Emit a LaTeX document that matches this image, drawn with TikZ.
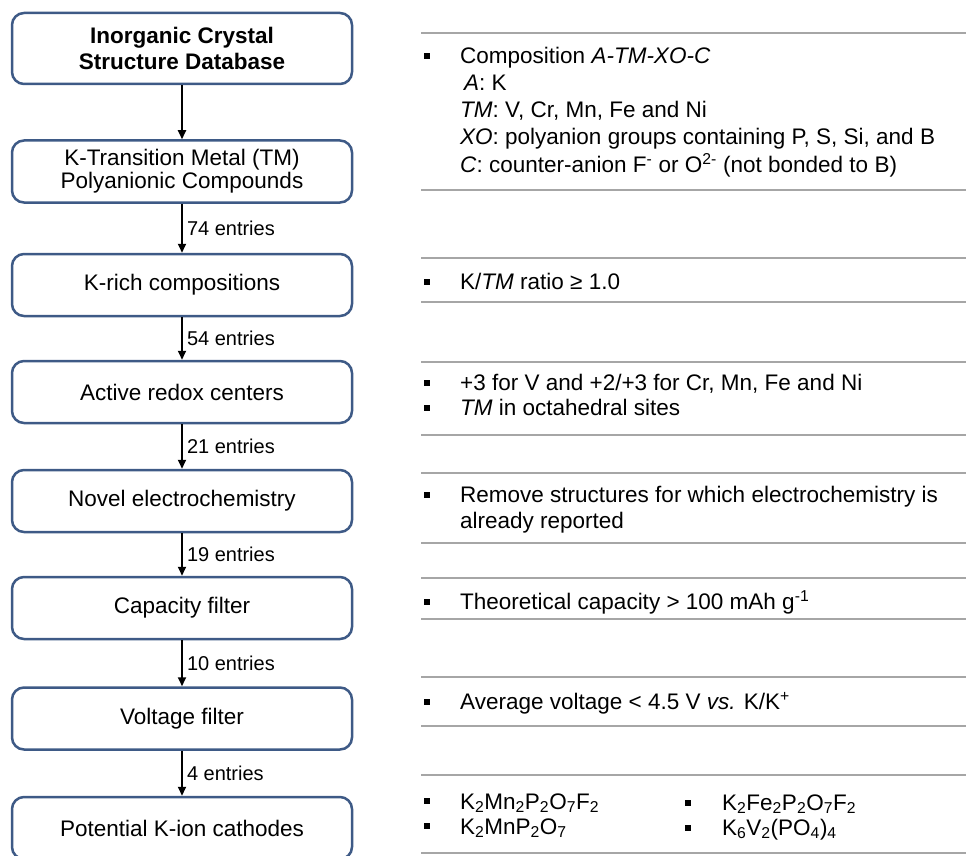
\documentclass[tikz,border=0pt]{standalone}
\usepackage{fontspec}
\setmainfont{Liberation Sans}
\usepackage{tikz}
\usetikzlibrary{arrows.meta}

\definecolor{boxblue}{RGB}{62,90,134}
\definecolor{rulegray}{RGB}{166,166,166}

\begin{document}
\begin{tikzpicture}[x=1pt,y=-1pt,
    stage/.style={draw=boxblue,line width=2.5pt,rounded corners=12pt,
      minimum width=340pt,minimum height=62pt,align=center,inner sep=2pt,
      font=\fontsize{22.5}{23}\selectfont},
    flow/.style={line width=2pt,-{Triangle[length=9pt,width=8pt]}},
    count/.style={right,inner sep=4pt,font=\fontsize{20}{24}\selectfont},
    crit/.style={anchor=base west,align=left,inner sep=0pt},
    sqbullet/.style={fill=black,minimum size=6pt,inner sep=0pt},
    sepline/.style={draw=rulegray,line width=2.2pt}
  ]
  \useasboundingbox (0,0) rectangle (966,856);
  \clip (0,0) rectangle (966,856);

  % stages of the screening
  \node[stage,font=\bfseries\fontsize{22.5}{26}\selectfont,minimum height=71pt]
    (icsd) at (182,48.5) {Inorganic Crystal\\Structure Database};
  \node[stage] (ktm) at (182,171.5) {K-Transition Metal (TM)\\Polyanionic Compounds};
  \node[stage] (krich) at (182,285) {K-rich compositions};
  \node[stage] (redox) at (182,392) {Active redox centers};
  \node[stage] (novel) at (182,501) {Novel electrochemistry};
  \node[stage] (capac) at (182,608) {Capacity filter};
  \node[stage] (volt) at (182,718.5) {Voltage filter};
  \node[stage] (cath) at (182,828) {Potential K-ion cathodes};

  % arrows with number of entries
  \draw[flow] (icsd) -- (ktm);
  \draw[flow] (ktm) -- (krich) node[count,midway] {74 entries};
  \draw[flow] (krich) -- (redox) node[count,midway] {54 entries};
  \draw[flow] (redox) -- (novel) node[count,midway] {21 entries};
  \draw[flow] (novel) -- (capac) node[count,midway] {19 entries};
  \draw[flow] (capac) -- (volt) node[count,midway] {10 entries};
  \draw[flow] (volt) -- (cath) node[count,midway] {4 entries};

  % grey separators of the criteria column
  \foreach \ly in {33,190,258,302,362,435,473,543,578,619,677,726,775,853}
    \draw[sepline] (421,\ly) -- (966,\ly);

  % criteria (multi-line nodes sit on the baseline of their last line)
  \begin{scope}[font=\fontsize{22.5}{27.2}\selectfont]
    \node[crit] (comp) at (460,172) {Composition \textit{A-TM-XO-C}\\
      \hspace{4pt}\textit{A}: K\\
      \textit{TM}: V, Cr, Mn, Fe and Ni\\
      \textit{XO}: polyanion groups containing P, S, Si, and B\\
      \textit{C}: counter-anion F\textsuperscript{-} or O\textsuperscript{2-} (not bonded to B)};
    \node[crit] (ratio) at (460,289) {K/\textit{TM} ratio ≥ 1.0};
    \node[crit] (ox) at (460,390) {+3 for V and +2/+3 for Cr, Mn, Fe and Ni};
    \node[crit] (octa) at (460,415) {\textit{TM} in octahedral sites};
    \node[crit,font=\fontsize{22.5}{26}\selectfont] (known) at (460,528)
      {Remove structures for which electrochemistry is\\already reported};
    \node[crit] (cap) at (460,609) {Theoretical capacity > 100 mAh g\textsuperscript{-1}};
    \node[crit] (vlt) at (460,709) {Average voltage < 4.5 V \textit{vs.} K/K\textsuperscript{+}};
    \node[crit] (fa) at (460,809) {K\textsubscript{2}Mn\textsubscript{2}P\textsubscript{2}O\textsubscript{7}F\textsubscript{2}};
    \node[crit] (fb) at (460,834) {K\textsubscript{2}MnP\textsubscript{2}O\textsubscript{7}};
    \node[crit] (fc) at (722,810) {K\textsubscript{2}Fe\textsubscript{2}P\textsubscript{2}O\textsubscript{7}F\textsubscript{2}};
    \node[crit] (fd) at (722,835) {K\textsubscript{6}V\textsubscript{2}(PO\textsubscript{4})\textsubscript{4}};
  \end{scope}

  % bullets
  \foreach \by [count=\i] in {56,282,383,408,495,602,702,801,826}
    \node[sqbullet] (dot\i) at (427,\by) {};
  \foreach \by [count=\i] in {803,828}
    \node[sqbullet] (dotr\i) at (688,\by) {};

\end{tikzpicture}
\end{document}
